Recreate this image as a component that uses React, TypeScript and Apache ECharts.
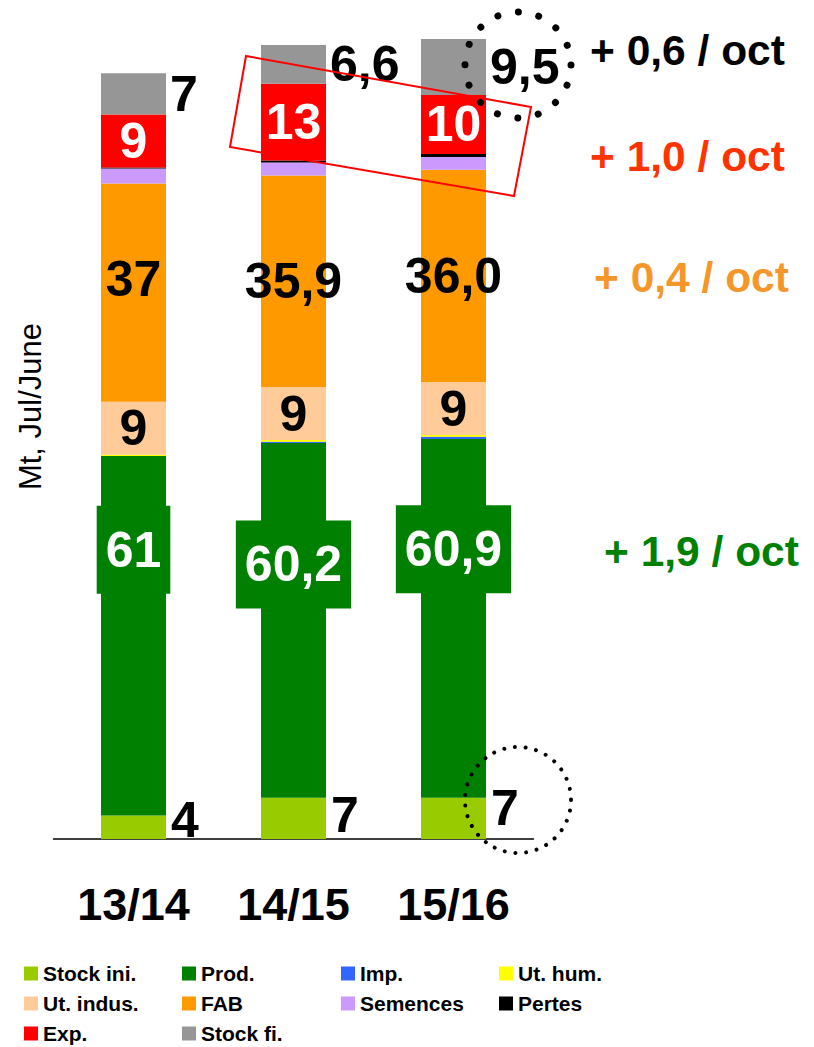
import React, { useEffect, useRef } from "react";
import * as echarts from "echarts";

// ---- data ----
const categories = ["13/14", "14/15", "15/16"];
const stockIni = [4, 7, 7];
const prod = [61, 60.2, 60.9];
const imp = [0, 0.2, 0.35];
const utHum = [0.22, 0.3, 0.3];
const utIndus = [9, 9, 9];
const fab = [37, 35.9, 36.0];
const semences = [2.55, 2.2, 2.2];
const pertes = [0.17, 0.35, 0.5];
const exp = [9, 13, 10];
const stockFi = [7, 6.6, 9.5];

const stockIniLabels = ["4", "7", "7"];
const prodLabels = ["61", "60,2", "60,9"];
const utIndusLabels = ["9", "9", "9"];
const fabLabels = ["37", "35,9", "36,0"];
const expLabels = ["9", "13", "10"];
const stockFiLabels = ["7", "6,6", "9,5"];

const trendTexts = ["+ 0,6 / oct", "+ 1,0 / oct", "+ 0,4 / oct", "+ 1,9 / oct"];
const yAxisTitle = "Mt, Jul/June";

// ---- layout / style ----
const FONT = "'Liberation Sans', Arial, Helvetica, sans-serif";
const COLORS = {
  stockIni: "#99CC00",
  prod: "#008000",
  imp: "#3366FF",
  utHum: "#FFFF00",
  utIndus: "#FFCC99",
  fab: "#FF9900",
  semences: "#CC99FF",
  pertes: "#000000",
  exp: "#FF0000",
  stockFi: "#969696",
};
const stockIniShift = [-7, -3, -10];
const prodShift = [-86, -56, -69];
const fabShift = [-14, 0, 0];

type LabelCfg = any;

function barSeries(
  name: string,
  values: number[],
  color: string,
  label?: LabelCfg,
  shifts?: number[]
) {
  return {
    type: "bar",
    name,
    stack: "total",
    barWidth: 65,
    itemStyle: { color },
    emphasis: { disabled: true },
    label: label || { show: false },
    data: values.map((v, i) =>
      shifts ? { value: v, label: { offset: [0, shifts[i]] } } : { value: v }
    ),
  };
}

function bigLabel(texts: string[], color: string, position: string, extra: any = {}) {
  return {
    show: true,
    position,
    color,
    fontFamily: FONT,
    fontWeight: "bold",
    fontSize: 50,
    lineHeight: 50,
    formatter: (p: any) => texts[p.dataIndex],
    ...extra,
  };
}

function legendCol(left: number, names: string[]) {
  return {
    orient: "vertical",
    left,
    top: 963,
    height: 120,
    padding: 0,
    itemWidth: 14,
    itemHeight: 14,
    itemGap: 9,
    icon: "rect",
    selectedMode: false,
    data: names,
    textStyle: {
      fontFamily: FONT,
      fontWeight: "bold",
      fontSize: 21,
      lineHeight: 20,
      color: "#000",
    },
  };
}

export default function App() {
  const ref = useRef<HTMLDivElement>(null);

  useEffect(() => {
    if (!ref.current) return;
    const chart = echarts.init(ref.current, undefined, { renderer: "svg" });

    const option: any = {
      animation: false,
      backgroundColor: "#ffffff",
      grid: { left: 53.5, width: 480, top: 14, height: 825 },
      xAxis: {
        type: "category",
        data: categories,
        axisLine: { show: true, lineStyle: { color: "#000", width: 1.5 } },
        axisTick: { show: false },
        axisLabel: {
          margin: 43,
          fontFamily: FONT,
          fontWeight: "bold",
          fontSize: 45,
          color: "#000",
        },
      },
      yAxis: {
        type: "value",
        min: 0,
        max: 140,
        name: yAxisTitle,
        nameLocation: "middle",
        nameRotate: 90,
        nameGap: 8,
        nameTextStyle: {
          fontFamily: FONT,
          fontSize: 31,
          color: "#000",
          padding: [0, 0, 0, 40],
        },
        axisLine: { show: false },
        axisTick: { show: false },
        axisLabel: { show: false },
        splitLine: { show: false },
      },
      legend: [
        legendCol(24, ["Stock ini.", "Ut. indus.", "Exp."]),
        legendCol(182, ["Prod.", "FAB", "Stock fi."]),
        legendCol(341, ["Imp.", "Semences"]),
        legendCol(499, ["Ut. hum.", "Pertes"]),
      ],
      series: [
        barSeries(
          "Stock ini.",
          stockIni,
          COLORS.stockIni,
          bigLabel(stockIniLabels, "#000", "right", { distance: 5 }),
          stockIniShift
        ),
        barSeries(
          "Prod.",
          prod,
          COLORS.prod,
          bigLabel(prodLabels, "#fff", "inside", {
            backgroundColor: COLORS.prod,
            padding: [19, 9],
          }),
          prodShift
        ),
        barSeries("Imp.", imp, COLORS.imp),
        barSeries("Ut. hum.", utHum, COLORS.utHum),
        barSeries("Ut. indus.", utIndus, COLORS.utIndus, bigLabel(utIndusLabels, "#000", "inside")),
        barSeries("FAB", fab, COLORS.fab, bigLabel(fabLabels, "#000", "inside"), fabShift),
        barSeries("Semences", semences, COLORS.semences),
        barSeries("Pertes", pertes, COLORS.pertes),
        barSeries("Exp.", exp, COLORS.exp, bigLabel(expLabels, "#fff", "inside")),
        barSeries(
          "Stock fi.",
          stockFi,
          COLORS.stockFi,
          bigLabel(stockFiLabels, "#000", "right", { distance: 4 })
        ),
      ],
      graphic: [
        {
          type: "polygon",
          z: 100,
          shape: { points: [[246, 56], [531, 107], [514, 196], [230, 147]] },
          style: { fill: "none", stroke: "#FF0000", lineWidth: 2 },
        },
        {
          type: "circle",
          z: 100,
          shape: { cx: 518, cy: 65, r: 53 },
          style: {
            fill: "none",
            stroke: "#000",
            lineWidth: 7,
            lineCap: "round",
            lineDash: [0.001, 20.8],
          },
        },
        {
          type: "circle",
          z: 100,
          shape: { cx: 518, cy: 800, r: 53 },
          style: {
            fill: "none",
            stroke: "#000",
            lineWidth: 4,
            lineCap: "round",
            lineDash: [0.001, 10.7],
          },
        },
        {
          type: "text",
          z: 100,
          x: 590,
          y: 50,
          style: {
            text: trendTexts[0],
            fill: "#000",
            font: `bold 42.5px ${FONT}`,
            verticalAlign: "middle",
          },
        },
        {
          type: "text",
          z: 100,
          x: 590,
          y: 156,
          style: {
            text: trendTexts[1],
            fill: "#FF3300",
            font: `bold 42.5px ${FONT}`,
            verticalAlign: "middle",
          },
        },
        {
          type: "text",
          z: 100,
          x: 594,
          y: 277,
          style: {
            text: trendTexts[2],
            fill: "#F5962A",
            font: `bold 42.5px ${FONT}`,
            verticalAlign: "middle",
          },
        },
        {
          type: "text",
          z: 100,
          x: 604,
          y: 551,
          style: {
            text: trendTexts[3],
            fill: "#008000",
            font: `bold 42.5px ${FONT}`,
            verticalAlign: "middle",
          },
        },
      ],
    };

    chart.setOption(option);
    return () => chart.dispose();
  }, []);

  return (
    <div
      ref={ref}
      style={{ position: "fixed", left: 0, top: 0, width: 814, height: 1047, background: "#fff" }}
    />
  );
}
